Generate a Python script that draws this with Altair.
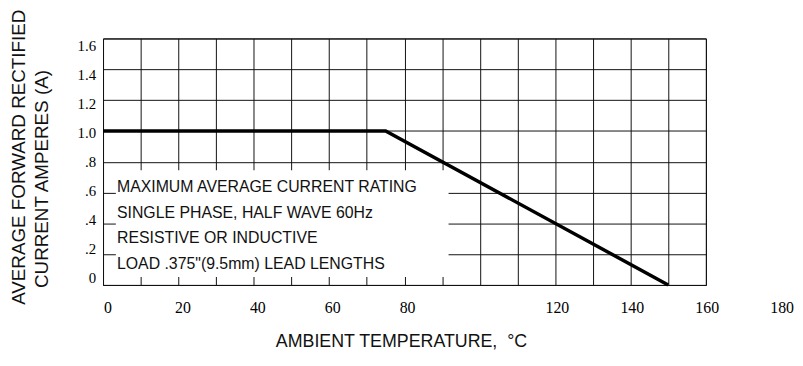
import altair as alt
import pandas as pd

# ---- data ----
temperature = [0, 75, 150]          # ambient temperature, °C
current = [1.0, 1.0, 0.0]           # average forward rectified current, A

grid_x = [0, 10, 20, 30, 40, 50, 60, 70, 80, 90, 100, 110, 120, 130, 140, 150, 160]
grid_y = [0, 0.2, 0.4, 0.6, 0.8, 1.0, 1.2, 1.4, 1.6]

x_label_values = [0, 20, 40, 60, 80, 120, 140, 160, 180]
x_label_texts = ["0", "20", "40", "60", "80", "120", "140", "160", "180"]

y_label_values = [0, 0.2, 0.4, 0.6, 0.8, 1.0, 1.2, 1.4, 1.6]
y_label_texts = ["0", ".2", ".4", ".6", ".8", "1.0", "1.2", "1.4", "1.6"]

note_lines = [
    "MAXIMUM AVERAGE CURRENT RATING",
    "SINGLE PHASE, HALF WAVE 60Hz",
    "RESISTIVE OR INDUCTIVE",
    'LOAD .375"(9.5mm) LEAD LENGTHS',
]

y_title_lines = ["AVERAGE FORWARD RECTIFIED", "CURRENT AMPERES (A)"]
x_title = "AMBIENT TEMPERATURE,\u00a0\u00a0\u00b0C"

# ---- layout (annotation anchors, not data) ----
note_x = 3.7
note_y = [0.636, 0.469, 0.302, 0.135]
mask = {"x": 3.4, "x2": 91.7, "y": 0.051, "y2": 0.745}

W, H = 609, 249
SANS = "Liberation Sans"
SERIF = "Liberation Serif"

xscale = alt.Scale(domain=[0, 160], nice=False, zero=False)
yscale = alt.Scale(domain=[0, 1.6], nice=False, zero=False)
# tick labels in the reference sit on their own, slightly shifted spacing
xlabel_scale = alt.Scale(domain=[-1.32, 159.65], nice=False, zero=False)
ylabel_scale = alt.Scale(domain=[-0.046, 1.654], nice=False, zero=False)

line_df = pd.DataFrame({"temp": temperature, "amp": current})
xlab_df = pd.DataFrame({"v": x_label_values, "t": x_label_texts})
ylab_df = pd.DataFrame({"v": y_label_values, "t": y_label_texts})
note_df = pd.DataFrame({"t": note_lines, "x": [note_x] * 4, "y": note_y})
mask_df = pd.DataFrame([mask])

x_axis = alt.Axis(
    values=grid_x, grid=True, labels=False, ticks=False, domain=False,
    gridColor="#111", gridWidth=1, gridOpacity=1,
    title=x_title, titleFont=SANS, titleFontSize=18, titleFontWeight="normal",
    titleColor="#111", titleX=301, titleY=62, titleBaseline="alphabetic",
    titleAlign="center",
)
y_axis = alt.Axis(
    values=grid_y, grid=True, labels=False, ticks=False, domain=False,
    gridColor="#111", gridWidth=1, gridOpacity=1, title="",
)

line_layer = alt.Chart(line_df).mark_line(color="black", strokeWidth=3.5).encode(
    x=alt.X("temp:Q", scale=xscale, axis=x_axis),
    y=alt.Y("amp:Q", scale=yscale, axis=y_axis),
)

mask_layer = alt.Chart(mask_df).mark_rect(color="white").encode(
    x=alt.X("x:Q", scale=xscale, axis=None),
    x2="x2:Q",
    y=alt.Y("y:Q", scale=yscale, axis=None),
    y2="y2:Q",
)

note_layer = alt.Chart(note_df).mark_text(
    font=SANS, fontSize=16, align="left", baseline="middle", color="#111"
).encode(
    x=alt.X("x:Q", scale=xscale, axis=None),
    y=alt.Y("y:Q", scale=yscale, axis=None),
    text="t:N",
)

xlab_layer = alt.Chart(xlab_df).mark_text(
    font=SERIF, fontSize=16, align="center", baseline="middle", color="black"
).encode(
    x=alt.X("v:Q", scale=xlabel_scale, axis=None),
    y=alt.value(272),
    text="t:N",
)

ylab_layer = alt.Chart(ylab_df).mark_text(
    font=SERIF, fontSize=15, align="right", baseline="middle", color="black"
).encode(
    x=alt.value(-7),
    y=alt.Y("v:Q", scale=ylabel_scale, axis=None),
    text="t:N",
)

ytitle1 = alt.Chart(pd.DataFrame({"t": [y_title_lines[0]]})).mark_text(
    font=SANS, fontSize=19, angle=270, align="center", baseline="alphabetic", color="#111"
).encode(x=alt.value(-79), y=alt.value(120), text="t:N")

ytitle2 = alt.Chart(pd.DataFrame({"t": [y_title_lines[1]]})).mark_text(
    font=SANS, fontSize=19, angle=270, align="center", baseline="alphabetic", color="#111"
).encode(x=alt.value(-56), y=alt.value(142), text="t:N")

chart = (
    alt.layer(line_layer, mask_layer, note_layer, xlab_layer, ylab_layer, ytitle1, ytitle2)
    .resolve_scale(x="independent", y="independent")
    .properties(
        width=W,
        height=H,
        autosize=alt.AutoSizeParams(type="none"),
        padding={"left": 96, "top": 29, "right": 90, "bottom": 70},
        background="white",
    )
    .configure_view(stroke="black", strokeWidth=1)
)

chart.save("out.html", embed_options={"renderer": "svg", "actions": False})
